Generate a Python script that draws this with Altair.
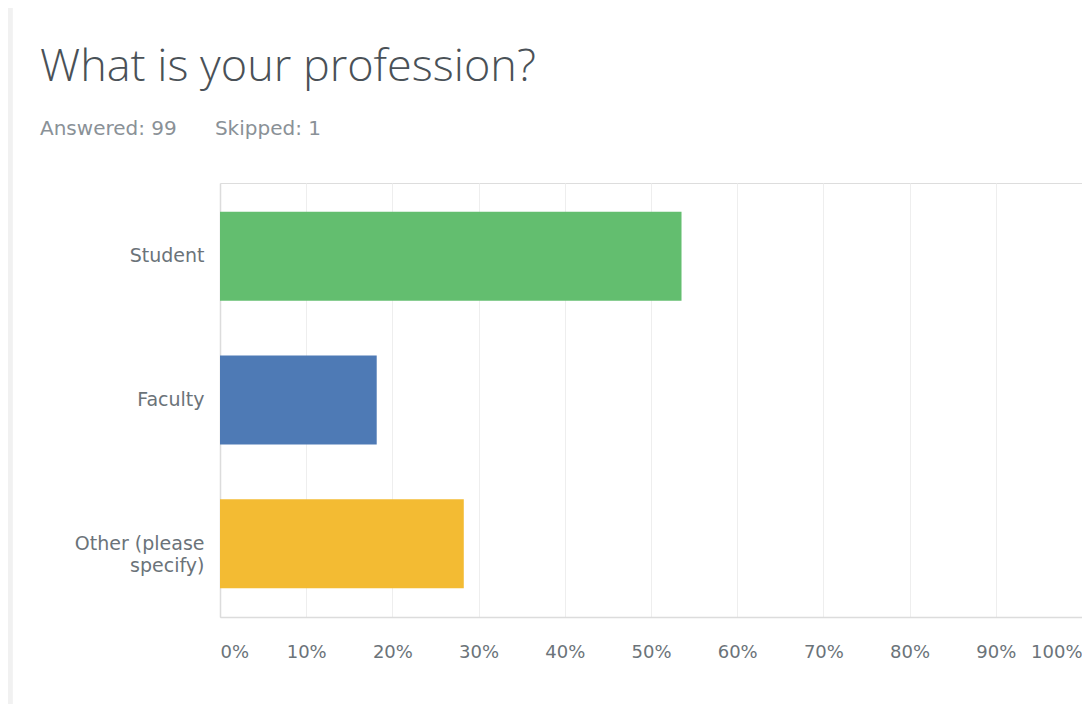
import altair as alt
import pandas as pd

categories = ["Student", "Faculty", "Other (please specify)"]
percents = [53.54, 18.18, 28.28]
bar_colors = ["#63BE6F", "#4E7AB5", "#F3BB33"]
tick_values = [0, 10, 20, 30, 40, 50, 60, 70, 80, 90, 100]

df = pd.DataFrame({"category": categories, "pct": percents})

label_color = "#6B7379"
font = "DejaVu Sans"
title_font = "Open Sans"

bars = alt.Chart(df).mark_bar().encode(
    x=alt.X(
        "pct:Q",
        scale=alt.Scale(domain=[0, 100], nice=False),
        axis=alt.Axis(
            values=tick_values,
            labelExpr="datum.value + '%'",
            labelFlush=True,
            grid=True,
            gridColor="#EEEEEE",
            gridWidth=1,
            domainColor="#DCDCDC",
            domainWidth=1.5,
            ticks=False,
            labelPadding=26,
            labelFontSize=18,
            labelColor=label_color,
            labelFont=font,
            title=None,
        ),
    ),
    y=alt.Y(
        "category:N",
        sort=categories,
        scale=alt.Scale(paddingInner=0.38, paddingOuter=0.2),
        axis=alt.Axis(
            title=None,
            ticks=False,
            grid=False,
            domainColor="#DCDCDC",
            domainWidth=1.5,
            labelPadding=16,
            labelFontSize=19,
            labelColor=label_color,
            labelFont=font,
            labelLineHeight=22,
            labelExpr="datum.value == 'Other (please specify)' ? ['Other (please', 'specify)'] : datum.label",
        ),
    ),
    color=alt.Color(
        "category:N",
        scale=alt.Scale(domain=categories, range=bar_colors),
        legend=None,
    ),
)

border = alt.Chart(df).mark_rule(color="#F1F1F1", strokeWidth=5).encode(
    x=alt.value(-210),
    y=alt.value(-183),
    y2=alt.value(529),
)

chart = (
    alt.layer(border, bars)
    .properties(
        width=862,
        height=434,
        autosize=alt.AutoSizeParams(type="none"),
        padding={"left": 212, "top": 175, "right": 0, "bottom": 87},
        title=alt.TitleParams(
            text="What is your profession?",
            subtitle="Answered: 99\u00a0\u00a0\u00a0\u00a0\u00a0\u00a0Skipped: 1",
            anchor="start",
            frame="group",
            dx=-180,
            dy=141,
            offset=0,
            font=title_font,
            fontSize=45,
            fontWeight=300,
            color="#4A5157",
            subtitleFont=font,
            subtitleFontSize=20,
            subtitleColor="#8A9197",
            subtitlePadding=29,
        ),
    )
    .configure_view(stroke=None)
    .configure(background="white")
)

chart.save("out.html", embed_options={"renderer": "svg", "actions": False})
